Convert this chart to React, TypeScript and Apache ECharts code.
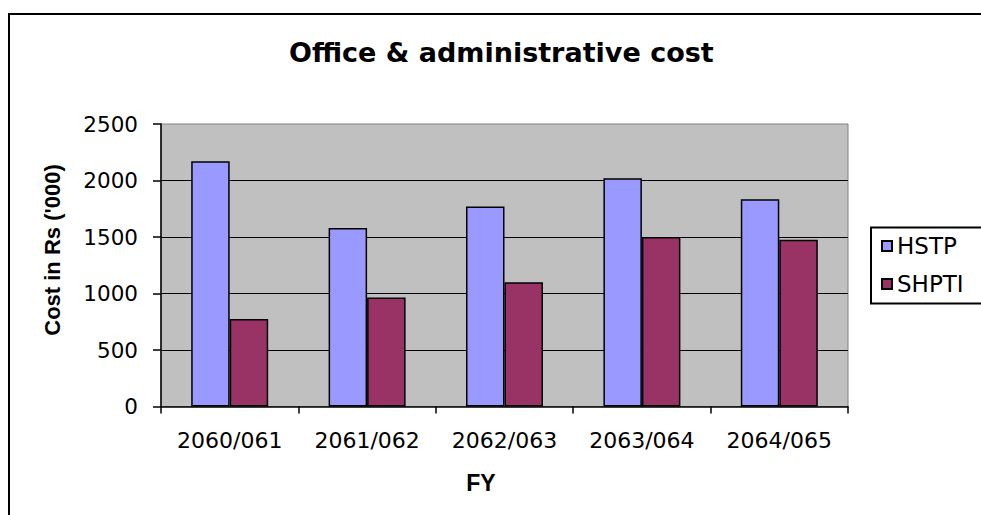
import React, { useEffect, useRef } from "react";
import * as echarts from "echarts";

const categories = ["2060/061", "2061/062", "2062/063", "2063/064", "2064/065"];
const hstpValues = [2170, 1580, 1770, 2020, 1835];
const shptiValues = [775, 965, 1100, 1500, 1475];
const seriesNames = ["HSTP", "SHPTI"];
const titleText = "Office & administrative cost";
const yAxisTitle = "Cost in Rs ('000)";
const xAxisTitle = "FY";

export default function App() {
  const ref = useRef<HTMLDivElement>(null);
  useEffect(() => {
    document.body.style.margin = "0";
    const chart = echarts.init(ref.current!, null, { renderer: "svg" });
    const labelFont = "DejaVu Sans";
    chart.setOption({
      animation: false,
      backgroundColor: "#ffffff",
      title: {
        text: titleText,
        left: 289,
        top: 39,
        padding: 0,
        textStyle: { fontFamily: "DejaVu Sans", fontWeight: "bold", fontSize: 27, color: "#000" },
      },
      legend: {
        orient: "vertical",
        left: 871,
        top: 228,
        padding: [6, 10, 6, 10],
        itemGap: 14,
        itemWidth: 10,
        itemHeight: 10,
        icon: "rect",
        borderWidth: 0,
        textStyle: { fontFamily: labelFont, fontSize: 23, color: "#000", lineHeight: 24 },
        data: seriesNames,
      },
      grid: {
        left: 161,
        top: 124,
        width: 687,
        height: 282.5,
        show: true,
        backgroundColor: "#c0c0c0",
        borderColor: "#808080",
        borderWidth: 1,
      },
      xAxis: {
        type: "category",
        data: categories,
        axisLine: { show: true, lineStyle: { color: "#000", width: 1.5 } },
        axisTick: { show: true, length: 7, lineStyle: { color: "#000", width: 1.5 } },
        axisLabel: { margin: 23, fontFamily: labelFont, fontSize: 22, color: "#000" },
        splitLine: { show: false },
      },
      yAxis: {
        type: "value",
        min: 0,
        max: 2500,
        interval: 500,
        axisLine: { show: true, lineStyle: { color: "#000", width: 1.5 } },
        axisTick: { show: true, length: 8, lineStyle: { color: "#000", width: 1.5 } },
        axisLabel: {
          margin: 23,
          fontFamily: labelFont,
          fontSize: 21.5,
          color: "#000",
          formatter: (v: number) => String(v),
        },
        splitLine: { show: true, showMaxLine: false, showMinLine: false, lineStyle: { color: "#000", width: 1.2 } },
      },
      series: [
        {
          name: seriesNames[0],
          type: "bar",
          data: hstpValues,
          barWidth: 38.5,
          barGap: "0%",
          itemStyle: { color: "#9999ff", borderColor: "#000", borderWidth: 1.5 },
        },
        {
          name: seriesNames[1],
          type: "bar",
          data: shptiValues,
          barWidth: 38.5,
          barGap: "0%",
          itemStyle: { color: "#993366", borderColor: "#000", borderWidth: 1.5 },
        },
      ],
      graphic: [
        {
          type: "rect",
          silent: true,
          z: -1,
          shape: { x: 9, y: 14, width: 1100, height: 700 },
          style: { fill: "none", stroke: "#000", lineWidth: 2 },
        },
        {
          type: "rect",
          silent: true,
          z: -1,
          shape: { x: 871, y: 227.5, width: 200, height: 76 },
          style: { fill: "none", stroke: "#000", lineWidth: 2 },
        },
        {
          type: "text",
          x: 52,
          y: 250,
          rotation: Math.PI / 2,
          style: {
            text: yAxisTitle,
            fontFamily: "Liberation Sans",
            fontWeight: "bold",
            fontSize: 22,
            fill: "#000",
            align: "center",
            verticalAlign: "middle",
          },
        },
        {
          type: "text",
          x: 481,
          y: 483,
          style: {
            text: xAxisTitle,
            fontFamily: "Liberation Sans",
            fontWeight: "bold",
            fontSize: 23,
            fill: "#000",
            align: "center",
            verticalAlign: "middle",
          },
        },
      ],
    });
    return () => chart.dispose();
  }, []);
  return (
    <div
      ref={ref}
      style={{ width: 981, height: 515, position: "absolute", left: 0, top: 0 }}
    />
  );
}
